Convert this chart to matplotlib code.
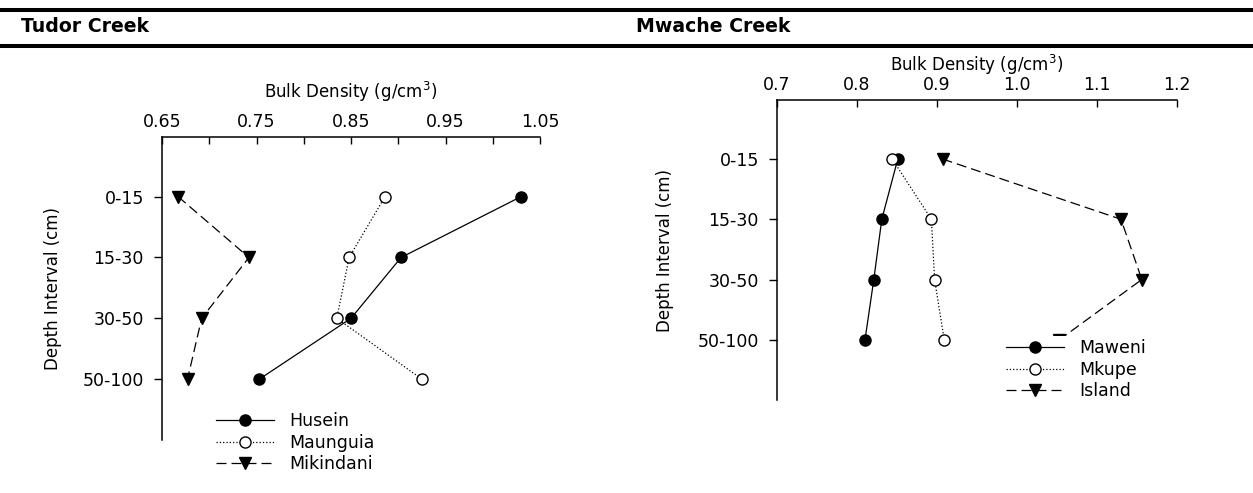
import matplotlib.pyplot as plt
from matplotlib.lines import Line2D

plt.rcParams['font.family'] = ['DejaVu Sans']
plt.rcParams['mathtext.default'] = 'regular'

depths = ['0-15', '15-30', '30-50', '50-100']

tudor_names = ['Husein', 'Maunguia', 'Mikindani']
husein = [1.030, 0.903, 0.850, 0.753]
maunguia = [0.886, 0.848, 0.835, 0.925]
mikindani = [0.667, 0.742, 0.692, 0.677]

mwache_names = ['Maweni', 'Mkupe', 'Island']
maweni = [0.851, 0.831, 0.821, 0.810]
mkupe = [0.844, 0.893, 0.897, 0.909]
island = [0.907, 1.130, 1.156, 1.053]

tudor_ticks = [0.65, 0.75, 0.85, 0.95, 1.05]
mwache_ticks = [0.7, 0.8, 0.9, 1.0, 1.1, 1.2]

styles = [dict(ls='-', marker='o', mfc='k', mec='k'),
          dict(ls=':', marker='o', mfc='white', mec='k'),
          dict(ls=(0, (8, 4)), marker='v', mfc='k', mec='k')]


def depth_panel(ax, series, names, xlim, major, minor_step, leg_xy, xpad, ypad):
   pos = list(range(1, len(depths) + 1))
   for vals, name, st in zip(series, names, styles):
      ax.plot(vals, pos, color='k', lw=0.9, ms=8, mew=1.0, label=name, **st)
   ax.set_xlim(*xlim)
   ax.set_ylim(5, 0.02)
   ax.set_yticks(pos)
   ax.set_yticklabels(depths)
   ax.xaxis.tick_top()
   ax.xaxis.set_label_position('top')
   ax.set_xticks(major)
   n_minor = int(round((xlim[1] - xlim[0]) / minor_step)) + 1
   ax.set_xticks([xlim[0] + i * minor_step for i in range(n_minor)], minor=True)
   ax.tick_params(axis='x', which='both', direction='in', length=5, width=1, labelsize=12.5, pad=4)
   ax.tick_params(axis='y', direction='out', length=6, width=1, labelsize=12.5, pad=7)
   ax.set_xlabel('Bulk Density (g/cm$^3$)', fontsize=12, labelpad=xpad)
   ax.set_ylabel('Depth Interval (cm)', fontsize=12, labelpad=ypad)
   for s in ['right', 'bottom']:
      ax.spines[s].set_visible(False)
   for s in ['left', 'top']:
      ax.spines[s].set_linewidth(1.1)
   leg = ax.legend(loc='upper left', bbox_to_anchor=leg_xy, bbox_transform=fig.transFigure,
                   fontsize=12.5, handlelength=3.3, handletextpad=0.9, borderpad=0.2,
                   borderaxespad=0, labelspacing=0.2, frameon=True, fancybox=False)
   leg.get_frame().set_facecolor('white')
   leg.get_frame().set_edgecolor('none')
   leg.get_frame().set_alpha(1)


fig = plt.figure(figsize=(12.53, 4.93), dpi=100)

for y in [1 - 10 / 493, 1 - 46 / 493]:
   fig.add_artist(Line2D([0, 1], [y, y], transform=fig.transFigure, color='k', lw=2.9))
fig.text(21 / 1253, 1 - 26 / 493, 'Tudor Creek', fontsize=13.6, fontweight='bold', va='center')
fig.text(636 / 1253, 1 - 26 / 493, 'Mwache Creek', fontsize=13.6, fontweight='bold', va='center')

ax1 = fig.add_axes([162 / 1253, 1 - 440 / 493, 378 / 1253, 303 / 493])
depth_panel(ax1, [husein, maunguia, mikindani], tudor_names, (0.65, 1.05), tudor_ticks, 0.05,
            (213 / 1253, 1 - 409 / 493), 11, 15)

ax2 = fig.add_axes([777 / 1253, 1 - 400 / 493, 400 / 1253, 300 / 493])
depth_panel(ax2, [maweni, mkupe, island], mwache_names, (0.7, 1.2), mwache_ticks, 0.1,
            (1003 / 1253, 1 - 336 / 493), 4, 17)

fig.savefig('out.png', dpi=100)
